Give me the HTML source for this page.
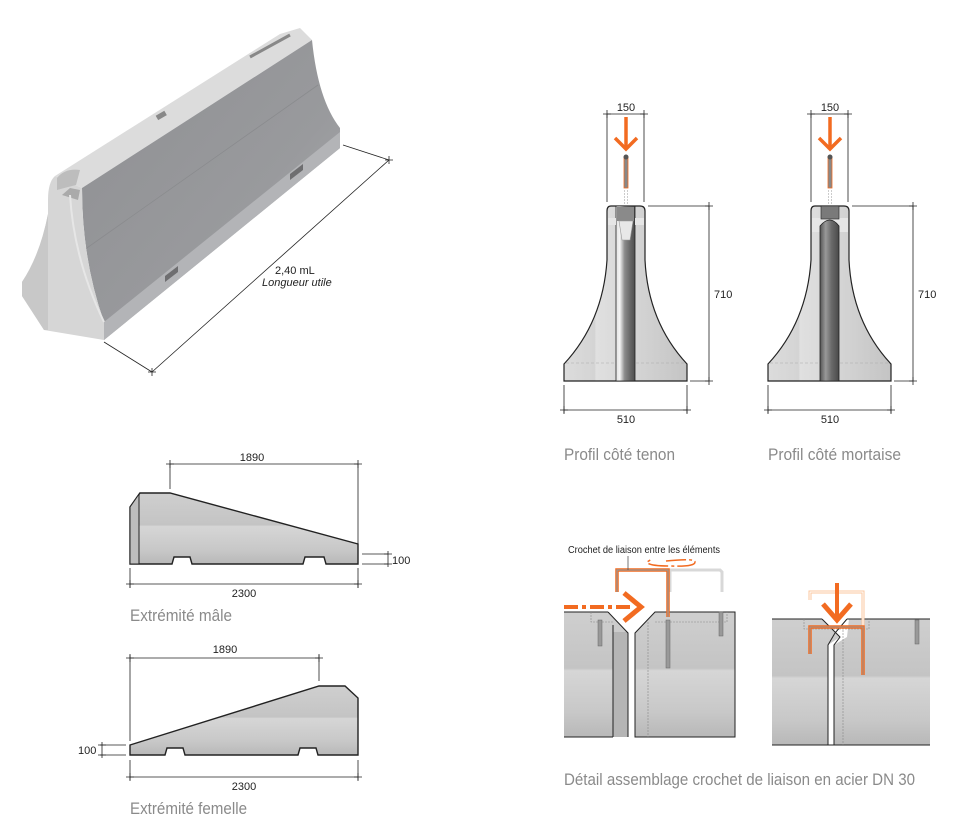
<!DOCTYPE html>
<html><head><meta charset="utf-8"><style>
html,body{margin:0;padding:0;background:#fff;}
svg{display:block;}
.d{font-family:"Liberation Sans",sans-serif;font-size:11px;fill:#222;}
.c{font-family:"Liberation Sans",sans-serif;font-size:17px;fill:#8a8a8a;}
.ln{stroke:#222;stroke-width:0.8;fill:none;}
.ol{stroke:#222;stroke-width:1.4;}
</style></head><body>
<svg width="977" height="838" viewBox="0 0 977 838" xmlns="http://www.w3.org/2000/svg">
<defs>
<linearGradient id="gs" x1="0" y1="0" x2="0" y2="1">
<stop offset="0" stop-color="#cfcfcf"/><stop offset="0.45" stop-color="#c4c4c4"/><stop offset="0.47" stop-color="#d6d6d6"/><stop offset="0.8" stop-color="#c8c8c8"/><stop offset="1" stop-color="#b8b8b8"/></linearGradient>
<linearGradient id="gf" x1="0" y1="0" x2="1" y2="1">
<stop offset="0" stop-color="#8e8f92"/><stop offset="0.6" stop-color="#999a9d"/><stop offset="1" stop-color="#aeafb2"/></linearGradient>
<linearGradient id="gp" x1="0" y1="0" x2="1" y2="0">
<stop offset="0" stop-color="#e2e2e2"/><stop offset="0.2" stop-color="#f3f3f3"/><stop offset="0.45" stop-color="#8b8b8b"/><stop offset="0.75" stop-color="#666"/><stop offset="1" stop-color="#4e4e4e"/></linearGradient>
<linearGradient id="gpr" x1="0" y1="0" x2="1" y2="0">
<stop offset="0" stop-color="#dcdcdc"/><stop offset="0.25" stop-color="#d4d4d4"/><stop offset="0.26" stop-color="#e0e0e0"/><stop offset="0.7" stop-color="#d0d0d0"/><stop offset="1" stop-color="#c4c4c4"/></linearGradient>
<linearGradient id="gpil" x1="0" y1="0" x2="1" y2="0">
<stop offset="0" stop-color="#555"/><stop offset="0.3" stop-color="#999"/><stop offset="0.6" stop-color="#6a6a6a"/><stop offset="1" stop-color="#4a4a4a"/></linearGradient>
</defs>

<!-- 3D barrier -->
<polygon points="55,176 280,34 300,28 312,40 82,188" fill="#dcdcdc"/>
<path d="M82,188 L312,40 Q318,100 340,128 L340,148 L104,340 L104,322 Q82,260 82,188Z" fill="url(#gf)"/>
<path d="M104,340 L340,148 L340,132 L104,322Z" fill="#b3b4b7"/>
<line x1="84" y1="250" x2="318" y2="85" stroke="#8a8b8e" stroke-width="0.8"/>
<polygon points="165,282 178,272 178,266 165,276" fill="#6e6e70"/>
<polygon points="290,180 303,170 303,164 290,174" fill="#6e6e70"/>
<path d="M55,176 Q48,182 48,200 L48,214 Q40,255 22,282 L22,296 L44,330 L104,340 L104,322 Q82,260 82,188 Z" fill="#d6d6d6"/>
<path d="M48,214 L48,330 L44,330 L22,296 L22,282 Q40,255 48,214Z" fill="#c8c8c8"/>
<path d="M62,195 L70,188 L80,190 L78,200 Z" fill="#aaa"/>
<path d="M57,178 Q65,168 80,170 L76,185 Q64,188 57,190Z" fill="#bdbdbd"/>
<path d="M70,195 Q74,260 104,322" stroke="#e6e6e6" stroke-width="2" fill="none"/>
<rect x="156" y="113" width="10" height="5" fill="#888" transform="rotate(-30 161 115)"/>
<path d="M250,57 L290,35" stroke="#888" stroke-width="3"/>
<!-- dimension -->
<path class="ln" d="M104,342 L152,372 M343,145 L389,160 M152,372 L389,160"/>
<path class="ln" d="M148,372h8M152,368v8M385,160h8M389,156v8"/>
<text class="d" x="275" y="274">2,40 mL</text>
<text class="d" x="262" y="286" font-style="italic">Longueur utile</text>

<!-- Male end -->
<path d="M130,507 L140,493 L170,493 L358,544 L358,564 L326,564 L324,557 L305,557 L303,564 L192,564 L190,557 L174,557 L172,564 L130,564Z" fill="url(#gs)" class="ol"/>
<path d="M130,507 L139,494 L139,564 L130,564Z" fill="#bdbdbd" stroke="#222" stroke-width="1"/>
<path class="ln" d="M170,464v25 M358,464v86 M170,464h188 M130,568v20 M358,568v20 M130,584h228 M362,554h26 M362,564h26 M388,551v16"/>
<path class="ln" d="M166,464h8M170,460v8M354,464h8M358,460v8M126,584h8M130,580v8M354,584h8M358,580v8M384,554h8M384,564h8"/>
<text class="d" x="252" y="461" text-anchor="middle">1890</text>
<text class="d" x="244" y="597" text-anchor="middle">2300</text>
<text class="d" x="392" y="564">100</text>
<text class="c" x="130" y="621" textLength="102" lengthAdjust="spacingAndGlyphs">Extrémité mâle</text>

<!-- Female end -->
<path d="M130,745 L319,686 L345,686 L358,698 L358,755 L318,755 L316,748 L300,748 L298,755 L185,755 L183,748 L167,748 L165,755 L130,755Z" fill="url(#gs)" class="ol"/>
<path class="ln" d="M130,655v86 M319,655v26 M130,658h189 M130,760v20 M358,760v20 M130,777h228 M100,745h26 M100,755h26 M102,742v16"/>
<path class="ln" d="M126,658h8M130,654v8M315,658h8M319,654v8M126,777h8M130,773v8M354,777h8M358,773v8M98,745h8M98,755h8"/>
<text class="d" x="225" y="653" text-anchor="middle">1890</text>
<text class="d" x="244" y="790" text-anchor="middle">2300</text>
<text class="d" x="78" y="754">100</text>
<text class="c" x="130" y="814" textLength="117" lengthAdjust="spacingAndGlyphs">Extrémité femelle</text>

<!-- Profiles -->
<g>
<path d="M611,206 L640,206 Q645,206 645,211 L645,260 Q648,322 687,364 L687,381 L564,381 L564,364 Q603,322 607,260 L607,211 Q607,206 611,206Z" fill="url(#gpr)" stroke="#222" stroke-width="1.2"/>
<line x1="566" y1="363" x2="686" y2="363" stroke="#aaa" stroke-width="0.6" stroke-dasharray="3,2"/>
<rect x="616" y="206" width="19" height="175" fill="url(#gp)" stroke="#222" stroke-width="0.8"/>
<rect x="617" y="207" width="17" height="14" fill="#8a8a8a"/>
<path d="M619,221 L633,221 L630,240 L622,240Z" fill="#e8e8e8" stroke="#999" stroke-width="0.6"/>
<rect x="608" y="218" width="8" height="7" fill="#e6e6e6"/><rect x="635" y="218" width="9" height="7" fill="#e6e6e6"/>
<path class="ln" d="M607,114v88 M644,114v88 M607,114h37 M648,206h61 M690,381h19 M709,206v175 M564,385v28 M687,385v28 M564,410h123"/>
<path class="ln" d="M603,114h8M607,110v8M640,114h8M644,110v8M705,206h8M709,202v8M705,381h8M709,377v8M560,410h8M564,406v8M683,410h8M687,406v8"/>
<text class="d" x="626" y="111" text-anchor="middle">150</text>
<text class="d" x="714" y="298">710</text>
<text class="d" x="626" y="423" text-anchor="middle">510</text>
<line x1="626" y1="117" x2="626" y2="149" stroke="#f26b21" stroke-width="3.5"/>
<path d="M615,138 L626,149 L637,138" stroke="#f26b21" stroke-width="3.5" fill="none"/>
<rect x="624" y="157" width="4" height="31" fill="#888" stroke="#f26b21" stroke-width="0.8"/>
<circle cx="626" cy="157" r="2.5" fill="#555"/>
<path d="M624.5,190v15M627.5,190v15" stroke="#aaa" stroke-width="0.6" stroke-dasharray="2,1"/>
</g>
<g transform="translate(204,0)">
<path d="M611,206 L640,206 Q645,206 645,211 L645,260 Q648,322 687,364 L687,381 L564,381 L564,364 Q603,322 607,260 L607,211 Q607,206 611,206Z" fill="url(#gpr)" stroke="#222" stroke-width="1.2"/>
<line x1="566" y1="363" x2="686" y2="363" stroke="#aaa" stroke-width="0.6" stroke-dasharray="3,2"/>
<rect x="608" y="218" width="36" height="14" fill="#e6e6e6"/>
<path d="M616,381 L616,226 Q626,214 635,226 L635,381Z" fill="url(#gpil)" stroke="#222" stroke-width="0.8"/>
<rect x="617" y="206" width="18" height="13" fill="#7a7a7a" stroke="#222" stroke-width="0.6"/>
<path class="ln" d="M607,114v88 M644,114v88 M607,114h37 M648,206h61 M690,381h19 M709,206v175 M564,385v28 M687,385v28 M564,410h123"/>
<path class="ln" d="M603,114h8M607,110v8M640,114h8M644,110v8M705,206h8M709,202v8M705,381h8M709,377v8M560,410h8M564,406v8M683,410h8M687,406v8"/>
<text class="d" x="626" y="111" text-anchor="middle">150</text>
<text class="d" x="714" y="298">710</text>
<text class="d" x="626" y="423" text-anchor="middle">510</text>
<line x1="626" y1="117" x2="626" y2="149" stroke="#f26b21" stroke-width="3.5"/>
<path d="M615,138 L626,149 L637,138" stroke="#f26b21" stroke-width="3.5" fill="none"/>
<rect x="624" y="157" width="4" height="31" fill="#888" stroke="#f26b21" stroke-width="0.8"/>
<circle cx="626" cy="157" r="2.5" fill="#555"/>
<path d="M624.5,190v15M627.5,190v15" stroke="#aaa" stroke-width="0.6" stroke-dasharray="2,1"/>
</g>
<text class="c" x="564" y="460" textLength="111" lengthAdjust="spacingAndGlyphs">Profil côté tenon</text>
<text class="c" x="768" y="460" textLength="133" lengthAdjust="spacingAndGlyphs">Profil côté mortaise</text>

<!-- Assembly detail left -->
<path d="M564,612 L608,612 L628,633 L628,737 L564,737Z" fill="url(#gs)"/>
<rect x="613" y="632" width="15" height="105" fill="#b5b5b5"/>
<path d="M608,612 L628,633 L628,737 M613,625 L613,737 M564,612 L608,612 M564,737 L613,737" stroke="#222" stroke-width="1" fill="none"/>
<path d="M635,633 L655,612 L735,612 L735,737 L635,737Z" fill="url(#gs)" stroke="#222" stroke-width="1"/>
<path d="M591,612v10h22M655,622h72v-10M648,622v115" stroke="#888" stroke-width="0.6" stroke-dasharray="2,1" fill="none"/>
<rect x="598" y="620" width="4" height="26" fill="#999" stroke="#666" stroke-width="0.5"/>
<rect x="666" y="620" width="4" height="48" fill="#999" stroke="#666" stroke-width="0.5"/>
<rect x="719" y="612" width="4" height="24" fill="#999" stroke="#666" stroke-width="0.5"/>
<path d="M670,592 L670,570 L720,570 L722,572 L722,592" stroke="#d8d8d8" stroke-width="3" fill="none"/>
<path d="M617,592 L617,570 L668,570 L668,617" stroke="#f26b21" stroke-width="3.5" fill="none"/>
<path d="M617,592 L617,570 L668,570 L668,617" stroke="#999" stroke-width="1.2" fill="none"/>
<path d="M564,607 L630,607" stroke="#f26b21" stroke-width="4" stroke-dasharray="14,4,4,4"/>
<path d="M624,593 L641,607 L624,621" stroke="#f26b21" stroke-width="5" fill="none"/>
<path d="M666,561 Q695,558 695,562 Q695,567 670,566 Q648,566 647,562 L652,559" stroke="#f26b21" stroke-width="1.5" fill="none" stroke-dasharray="20,3,3,3"/>
<line x1="628" y1="556" x2="628" y2="570" stroke="#555" stroke-width="0.8"/>
<text class="d" x="568" y="553" style="font-size:10px" textLength="152" lengthAdjust="spacingAndGlyphs">Crochet de liaison entre les éléments</text>

<!-- Assembly detail right -->
<path d="M772,619 L822,619 L840,637 L828,645 L828,745 L772,745Z" fill="url(#gs)"/>
<path d="M834,645 L847,637 L849,619 L930,619 L930,745 L834,745Z" fill="url(#gs)"/>
<path d="M822,619 L840,637 L834,645 L834,745 M847,619 L835,633 L828,645 L828,745 M772,619 L822,619 M847,619 L930,619 M772,745 L930,745" stroke="#222" stroke-width="1" fill="none"/>
<path d="M804,619v10h65v-10M843,630v115" stroke="#888" stroke-width="0.6" stroke-dasharray="2,1" fill="none"/>
<rect x="915" y="620" width="4" height="24" fill="#999" stroke="#666" stroke-width="0.5"/>
<path d="M810,600 L810,592 L863,592 L863,640" stroke="#fbc79f" stroke-width="3" fill="none"/>
<path d="M810,600 L810,592 L863,592 L863,640" stroke="#fff" stroke-width="1" fill="none"/>
<path d="M810,654 L810,627 L863,627 L863,675" stroke="#f26b21" stroke-width="3.5" fill="none"/>
<path d="M810,654 L810,627 L863,627 L863,675" stroke="#999" stroke-width="1" fill="none"/>
<line x1="837" y1="583" x2="837" y2="620" stroke="#f26b21" stroke-width="4"/>
<path d="M823,604 L837,620 L851,604" stroke="#f26b21" stroke-width="5" fill="none"/>
<text class="c" x="564" y="785" textLength="351" lengthAdjust="spacingAndGlyphs">Détail assemblage crochet de liaison en acier DN 30</text>
</svg>
</body></html>
